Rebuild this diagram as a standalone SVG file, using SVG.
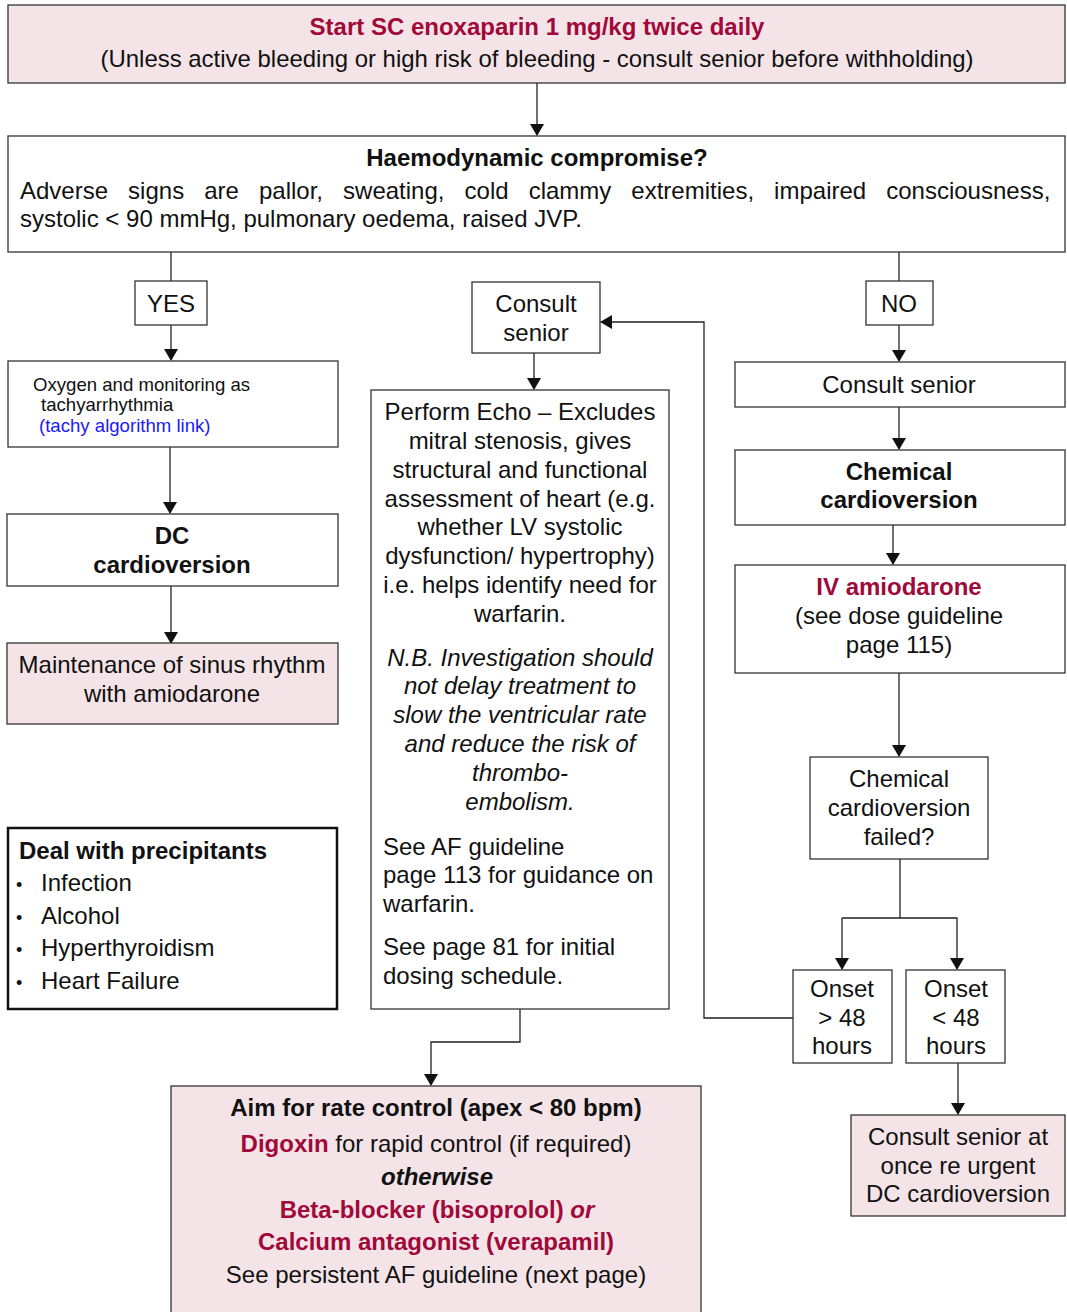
<svg xmlns="http://www.w3.org/2000/svg" width="1067" height="1312" viewBox="0 0 1067 1312">
<style>
text{font-family:"Liberation Sans",Arial,sans-serif;fill:#111;font-size:24px}
.c{text-anchor:middle}
.b{font-weight:bold}
.i{font-style:italic}
.r{fill:#a0093a}
.sm{font-size:18.6px}
.box{fill:#fff;stroke:#333;stroke-width:1.3}
.pk{fill:#f4e4e7}
.ln{fill:none;stroke:#222;stroke-width:1.3}
</style>
<defs>
<marker id="ah" markerWidth="12" markerHeight="16" refX="11" refY="8" orient="auto" markerUnits="userSpaceOnUse">
<path d="M0,1 L12,8 L0,15 Z" fill="#111"/>
</marker>
</defs>
<g id="connectors">
<line class="ln" x1="537" y1="83" x2="537" y2="135" marker-end="url(#ah)"/>
<line class="ln" x1="171" y1="252" x2="171" y2="281"/>
<line class="ln" x1="171" y1="325" x2="171" y2="360" marker-end="url(#ah)"/>
<line class="ln" x1="899" y1="252" x2="899" y2="281"/>
<line class="ln" x1="899" y1="325" x2="899" y2="361" marker-end="url(#ah)"/>
<line class="ln" x1="170" y1="447" x2="170" y2="513" marker-end="url(#ah)"/>
<line class="ln" x1="171" y1="586" x2="171" y2="643" marker-end="url(#ah)"/>
<line class="ln" x1="534" y1="353" x2="534" y2="389" marker-end="url(#ah)"/>
<polyline class="ln" points="520,1009 520,1042 431,1042 431,1085" marker-end="url(#ah)"/>
<line class="ln" x1="899" y1="407" x2="899" y2="449" marker-end="url(#ah)"/>
<line class="ln" x1="893" y1="525" x2="893" y2="564" marker-end="url(#ah)"/>
<line class="ln" x1="899" y1="673" x2="899" y2="756" marker-end="url(#ah)"/>
<line class="ln" x1="900" y1="859" x2="900" y2="918"/>
<polyline class="ln" points="842,918 957,918 957,969" marker-end="url(#ah)"/>
<line class="ln" x1="842" y1="918" x2="842" y2="969" marker-end="url(#ah)"/>
<polyline class="ln" points="793,1018 704,1018 704,322 601,322" marker-end="url(#ah)"/>
<line class="ln" x1="958" y1="1063" x2="958" y2="1114" marker-end="url(#ah)"/>
</g>
<g id="n-start">
<rect class="box pk" x="8" y="5" width="1057" height="78"/>
<text class="c b r" x="537" y="35">Start SC enoxaparin 1 mg/kg twice daily</text>
<text class="c" x="537" y="67" textLength="873" lengthAdjust="spacingAndGlyphs">(Unless active bleeding or high risk of bleeding - consult senior before withholding)</text>
</g>
<g id="n-haemo">
<rect class="box" x="8" y="136" width="1057" height="116"/>
<text class="c b" x="537" y="166">Haemodynamic compromise?</text>
<text x="20" y="199" style="word-spacing:13.4px">Adverse signs are pallor, sweating, cold clammy extremities, impaired consciousness,</text>
<text x="20" y="227">systolic &lt; 90 mmHg, pulmonary oedema, raised JVP.</text>
</g>
<g id="n-yes">
<rect class="box" x="135" y="281" width="72" height="44"/>
<text class="c" x="171" y="312">YES</text>
</g>
<g id="n-no">
<rect class="box" x="866" y="281" width="67" height="44"/>
<text class="c" x="899" y="312">NO</text>
</g>
<g id="n-oxygen">
<rect class="box" x="8" y="361" width="330" height="86"/>
<text class="sm" x="33" y="391">Oxygen and monitoring as</text>
<text class="sm" x="41" y="411">tachyarrhythmia</text>
<text class="sm" x="39" y="432" style="fill:#1a1aff">(tachy algorithm link)</text>
</g>
<g id="n-dc">
<rect class="box" x="7" y="514" width="331" height="72"/>
<text class="c b" x="172" y="544">DC</text>
<text class="c b" x="172" y="573">cardioversion</text>
</g>
<g id="n-maint">
<rect class="box pk" x="7" y="643" width="331" height="81"/>
<text class="c" x="172" y="673">Maintenance of sinus rhythm</text>
<text class="c" x="172" y="702">with amiodarone</text>
</g>
<g id="n-precip">
<rect x="8" y="828" width="329" height="181" fill="#fff" stroke="#111" stroke-width="2.5"/>
<text class="b" x="19" y="859">Deal with precipitants</text>
<text x="16" y="891" style="font-size:18px">•</text><text x="41" y="891">Infection</text>
<text x="16" y="924" style="font-size:18px">•</text><text x="41" y="924">Alcohol</text>
<text x="16" y="956" style="font-size:18px">•</text><text x="41" y="956">Hyperthyroidism</text>
<text x="16" y="989" style="font-size:18px">•</text><text x="41" y="989">Heart Failure</text>
</g>
<g id="n-consult-mid">
<rect class="box" x="472" y="282" width="128" height="71"/>
<text class="c" x="536" y="312">Consult</text>
<text class="c" x="536" y="341">senior</text>
</g>
<g id="n-echo">
<rect class="box" x="371" y="390" width="298" height="619"/>
<text class="c" x="520" y="420">Perform Echo – Excludes</text>
<text class="c" x="520" y="449">mitral stenosis, gives</text>
<text class="c" x="520" y="478">structural and functional</text>
<text class="c" x="520" y="507">assessment of heart (e.g.</text>
<text class="c" x="520" y="535">whether LV systolic</text>
<text class="c" x="520" y="564">dysfunction/ hypertrophy)</text>
<text class="c" x="520" y="593">i.e. helps identify need for</text>
<text class="c" x="520" y="622">warfarin.</text>
<text class="c i" x="520" y="666">N.B. Investigation should</text>
<text class="c i" x="520" y="694">not delay treatment to</text>
<text class="c i" x="520" y="723">slow the ventricular rate</text>
<text class="c i" x="520" y="752">and reduce the risk of</text>
<text class="c i" x="520" y="781">thrombo-</text>
<text class="c i" x="520" y="810">embolism.</text>
<text x="383" y="855">See AF guideline</text>
<text x="383" y="883">page 113 for guidance on</text>
<text x="383" y="912">warfarin.</text>
<text x="383" y="955">See page 81 for initial</text>
<text x="383" y="984">dosing schedule.</text>
</g>
<g id="n-rate">
<rect class="box pk" x="171" y="1086" width="530" height="240"/>
<text class="c b" x="436" y="1116">Aim for rate control (apex &lt; 80 bpm)</text>
<text class="c" x="436" y="1152"><tspan class="b r">Digoxin</tspan> for rapid control (if required)</text>
<text class="c b i" x="437" y="1185">otherwise</text>
<text class="c b r" x="437" y="1218">Beta-blocker (bisoprolol) <tspan class="i">or</tspan></text>
<text class="c b r" x="436" y="1250">Calcium antagonist (verapamil)</text>
<text class="c" x="436" y="1283">See persistent AF guideline (next page)</text>
</g>
<g id="n-consult-right">
<rect class="box" x="735" y="362" width="330" height="45"/>
<text class="c" x="899" y="393">Consult senior</text>
</g>
<g id="n-chem">
<rect class="box" x="735" y="450" width="330" height="75"/>
<text class="c b" x="899" y="480">Chemical</text>
<text class="c b" x="899" y="508">cardioversion</text>
</g>
<g id="n-iv">
<rect class="box" x="735" y="565" width="330" height="108"/>
<text class="c b r" x="899" y="595">IV amiodarone</text>
<text class="c" x="899" y="624">(see dose guideline</text>
<text class="c" x="899" y="653">page 115)</text>
</g>
<g id="n-failed">
<rect class="box" x="810" y="757" width="178" height="102"/>
<text class="c" x="899" y="787">Chemical</text>
<text class="c" x="899" y="816">cardioversion</text>
<text class="c" x="899" y="845">failed?</text>
</g>
<g id="n-gt48">
<rect class="box" x="793" y="970" width="99" height="93"/>
<text class="c" x="842" y="997">Onset</text>
<text class="c" x="842" y="1026">&gt; 48</text>
<text class="c" x="842" y="1054">hours</text>
</g>
<g id="n-lt48">
<rect class="box" x="906" y="970" width="99" height="93"/>
<text class="c" x="956" y="997">Onset</text>
<text class="c" x="956" y="1026">&lt; 48</text>
<text class="c" x="956" y="1054">hours</text>
</g>
<g id="n-urgent">
<rect class="box pk" x="851" y="1115" width="214" height="101"/>
<text class="c" x="958" y="1145">Consult senior at</text>
<text class="c" x="958" y="1174">once re urgent</text>
<text class="c" x="958" y="1202">DC cardioversion</text>
</g>
</svg>
